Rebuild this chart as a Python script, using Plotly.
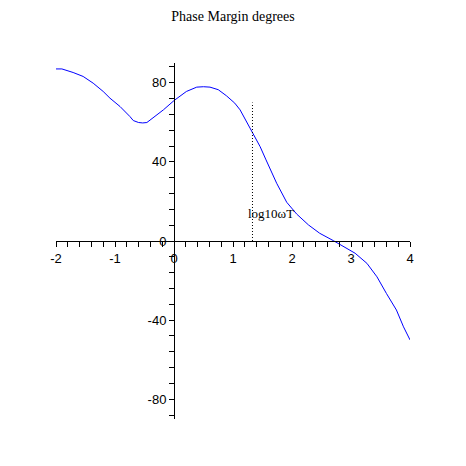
import plotly.graph_objects as go

# log10(omega*T) values and phase margin (degrees)
log10_wT = [-2.0, -1.9, -1.71, -1.54, -1.37, -1.2, -1.085, -0.915, -0.746, -0.69,
            -0.6, -0.53, -0.46, -0.32, -0.18, 0.0, 0.21, 0.385, 0.5, 0.61,
            0.75, 0.89, 1.03, 1.12, 1.23, 1.34, 1.46, 1.56, 1.74, 1.91,
            2.08, 2.28, 2.47, 2.70, 2.87, 3.07, 3.27, 3.44, 3.6, 3.77,
            3.89, 4.0]
phase_margin = [87.0, 87.0, 85.2, 83.2, 79.8, 75.6, 72.2, 68.0, 62.9, 60.9,
                59.9, 59.7, 59.9, 62.9, 66.3, 71.0, 75.6, 77.8, 78.0, 77.8,
                76.5, 73.4, 69.7, 66.3, 60.4, 54.5, 47.7, 41.0, 29.2, 19.6,
                13.6, 8.1, 3.9, 0.2, -2.9, -6.2, -11.3, -18.1, -26.5, -34.9,
                -43.4, -50.0]

marker_x = 1.33
marker_top = 70
marker_label = "log10\u03c9T"
label_x = 1.22
label_y = 13.7

title_text = "Phase Margin degrees"
x_ticks = [-2, -1, 0, 1, 2, 3, 4]
x_tick_text = ["-2", "-1", "0", "1", "2", "3", "4"]
y_ticks = [-80, -40, 0, 40, 80]
y_tick_text = ["-80", "-40", "0", "40", "80"]

fig = go.Figure()
fig.add_trace(go.Scatter(x=log10_wT, y=phase_margin, mode="lines",
                         line=dict(color="#0000FF", width=1), hoverinfo="skip"))

fig.add_shape(type="line", x0=marker_x, x1=marker_x, y0=0, y1=marker_top,
              xref="x", yref="y", line=dict(color="black", width=1, dash="1px,2px"))
fig.add_annotation(x=label_x, y=label_y, text=marker_label, showarrow=False,
                   xanchor="left", yanchor="middle",
                   font=dict(family="Liberation Serif", size=13, color="black"))

axis_font = dict(family="Liberation Sans", size=13, color="black")
fig.update_layout(
    width=466, height=466,
    margin=dict(l=48, r=64, t=55, b=55),
    paper_bgcolor="white", plot_bgcolor="white",
    showlegend=False,
    title=dict(text=title_text, x=225 / 466, xanchor="center", y=1 - 3 / 466,
               yanchor="top", yref="container", xref="container",
               pad=dict(t=0, b=0, l=0, r=0),
               font=dict(family="Liberation Serif", size=14, color="black")),
    xaxis=dict(range=[-2, 4], anchor="free", position=0.5,
               showgrid=False, zeroline=False, showline=True, linecolor="black",
               linewidth=1, ticks="outside", ticklen=5, tickcolor="black",
               tickvals=x_ticks, ticktext=x_tick_text, tickfont=axis_font,
               minor=dict(dtick=0.2, ticks="outside", ticklen=5, tickcolor="black",
                          showgrid=False)),
    yaxis=dict(range=[-90, 90], anchor="free", position=1 / 3,
               showgrid=False, zeroline=False, showline=True, linecolor="black",
               linewidth=1, ticks="outside", ticklen=5, tickcolor="black",
               tickvals=y_ticks, ticktext=y_tick_text, tickfont=axis_font,
               minor=dict(dtick=8, tick0=0, ticks="outside", ticklen=5,
                          tickcolor="black", showgrid=False)),
)

fig.write_html("out.html")
